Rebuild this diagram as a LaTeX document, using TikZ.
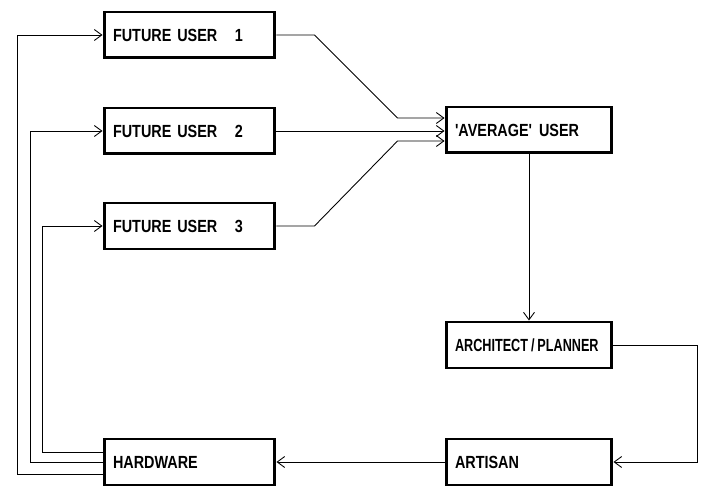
\documentclass[tikz,border=0pt]{standalone}
\usepackage{fontspec}
\newfontfamily\boxfont[FakeStretch=0.82]{Liberation Sans}
\usetikzlibrary{positioning, calc, arrows.meta}

\tikzset{
  box/.style={draw, line width=1.7pt, minimum height=0.92cm, inner xsep=0.18cm,
    align=left, font=\boxfont\bfseries\fontsize{10}{12}\selectfont},
  lbox/.style={box, minimum width=3.42cm, text width=3.06cm},
  rbox/.style={box, minimum width=3.32cm, text width=2.96cm},
  conn/.style={line width=0.5pt, -{Straight Barb[length=1.5mm, width=2.2mm]}}
}

\begin{document}
\begin{tikzpicture}[x=0.02cm, y=-0.02cm]
                \useasboundingbox (0,0) rectangle (707,486);
                % left column
                \node[lbox] (fu1) at (189.5,35) {FUTURE USER\hspace{1em}1};
                \node[lbox] (fu2) at (189.5,131) {FUTURE USER\hspace{1em}2};
                \node[lbox] (fu3) at (189.5,226) {FUTURE USER\hspace{1em}3};
                \node[lbox] (hw) at (189.5,462) {HARDWARE};
                % right column
                \node[rbox] (avg) at (529,130) {'AVERAGE'\hspace{0.4em}USER};
                \node[rbox] (arch) at (529,345) {{\addfontfeature{FakeStretch=0.72}ARCHITECT\,/\,PLANNER}};
                \node[rbox] (art) at (529,462) {ARTISAN};
                % users to average user
                \draw[conn] (fu1.east) -- ++(38,0) -- ($(avg.west)+(-47,-12)$) -- ($(avg.west)+(0,-12)$);
                \draw[conn] (fu2.east) -- (fu2.east -| avg.west);
                \draw[conn] (fu3.east) -- ++(38,0) -- ($(avg.west)+(-47,11)$) -- ($(avg.west)+(0,11)$);
                \draw[conn] (avg.south) -- (arch.north);
                \draw[conn] (arch.east) -- ++(84,0) |- (art.east);
                \draw[conn] (art.west) -- (hw.east);
                % feedback from hardware
                \draw[conn] ($(hw.west)+(0,-10)$) -- ++(-60,0) |- (fu3.west);
                \draw[conn] (hw.west) -- ++(-72,0) |- (fu2.west);
                \draw[conn] ($(hw.west)+(0,12)$) -- ++(-85,0) |- (fu1.west);
\end{tikzpicture}
\end{document}
